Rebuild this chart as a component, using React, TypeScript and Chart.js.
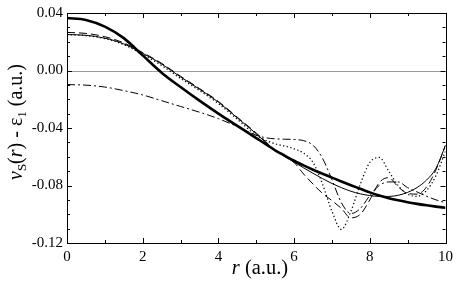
import React, { useEffect, useRef } from "react";
import { Chart, registerables } from "chart.js";

Chart.register(...registerables);

// radial grid (a.u.)
const rValues = [0, 0.5, 1, 1.5, 2, 2.5, 3, 3.5, 4, 4.5, 5, 5.25, 5.5, 5.75, 6, 6.25, 6.5, 6.75, 7, 7.25, 7.5, 7.75, 8, 8.25, 8.5, 8.75, 9, 9.25, 9.5, 9.75, 10];

const thickSolid = [0.0365, 0.0352, 0.0305, 0.0225, 0.0105, -0.0015, -0.0115, -0.021, -0.030, -0.0385, -0.047, -0.0512, -0.0555, -0.0592, -0.0628, -0.066, -0.069, -0.0718, -0.0745, -0.0772, -0.0798, -0.0823, -0.0848, -0.087, -0.0888, -0.0903, -0.0916, -0.0928, -0.0938, -0.0947, -0.0955];

const thinSolid = [0.025, 0.0245, 0.0225, 0.0185, 0.012, 0.0045, -0.0045, -0.013, -0.022, -0.033, -0.044, -0.050, -0.0555, -0.0598, -0.0637, -0.0677, -0.0715, -0.0752, -0.0786, -0.0815, -0.084, -0.0858, -0.087, -0.0876, -0.0876, -0.0868, -0.0848, -0.0814, -0.0762, -0.068, -0.052];

const dashed = [0.0265, 0.0258, 0.0235, 0.0192, 0.0125, 0.005, -0.004, -0.0125, -0.0215, -0.0325, -0.0435, -0.0495, -0.0555, -0.0598, -0.064, -0.072, -0.079, -0.0855, -0.0905, -0.096, -0.1025, -0.100, -0.090, -0.078, -0.0745, -0.081, -0.0855, -0.086, -0.081, -0.069, -0.052];

const dotted = [0.025, 0.0243, 0.0222, 0.018, 0.0112, 0.0035, -0.0055, -0.014, -0.023, -0.034, -0.045, -0.0485, -0.051, -0.0525, -0.0545, -0.0575, -0.064, -0.079, -0.098, -0.1105, -0.098, -0.079, -0.064, -0.0605, -0.070, -0.080, -0.086, -0.0875, -0.0835, -0.073, -0.056];

const dashDot = [-0.0098, -0.0102, -0.0115, -0.014, -0.017, -0.021, -0.025, -0.029, -0.0335, -0.039, -0.045, -0.0468, -0.0475, -0.0478, -0.048, -0.0488, -0.052, -0.061, -0.076, -0.092, -0.0995, -0.096, -0.087, -0.080, -0.0775, -0.0775, -0.0815, -0.0845, -0.0875, -0.090, -0.092];

const xMajorTicks = [0, 2, 4, 6, 8, 10];
const xMinorTicks = [1, 3, 5, 7, 9];
const yMajorTicks = [0.04, 0.0, -0.04, -0.08, -0.12];
const yMinorTicks = [0.03, 0.02, 0.01, -0.01, -0.02, -0.03, -0.05, -0.06, -0.07, -0.09, -0.1, -0.11];

const SERIF = "'Liberation Serif', 'Times New Roman', serif";

function toPoints(ys: number[]) {
  return rValues.map((r, i) => ({ x: r, y: ys[i] }));
}

const framePlugin = {
  id: "frameTicksTitles",
  beforeDatasetsDraw(chart: any) {
    const { ctx, chartArea } = chart;
    const y = chart.scales.y;
    const py = Math.round(y.getPixelForValue(0)) + 0.5;
    ctx.save();
    ctx.strokeStyle = "#9a9a9a";
    ctx.lineWidth = 1;
    ctx.beginPath();
    ctx.moveTo(chartArea.left, py);
    ctx.lineTo(chartArea.right, py);
    ctx.stroke();
    ctx.restore();
  },
  afterDatasetsDraw(chart: any) {
    const { ctx, chartArea } = chart;
    const xs = chart.scales.x;
    const ys = chart.scales.y;
    const L = chartArea.left, R = chartArea.right, T = chartArea.top, B = chartArea.bottom;
    ctx.save();
    ctx.strokeStyle = "#000";
    ctx.lineWidth = 1;
    ctx.strokeRect(Math.round(L) + 0.5, Math.round(T) + 0.5, Math.round(R - L), Math.round(B - T));
    ctx.beginPath();
    const xt = (v: number, len: number) => {
      const p = Math.round(xs.getPixelForValue(v)) + 0.5;
      ctx.moveTo(p, B);
      ctx.lineTo(p, B - len);
      ctx.moveTo(p, T);
      ctx.lineTo(p, T + len);
    };
    const yt = (v: number, len: number) => {
      const p = Math.round(ys.getPixelForValue(v)) + 0.5;
      ctx.moveTo(L, p);
      ctx.lineTo(L + len, p);
      ctx.moveTo(R, p);
      ctx.lineTo(R - len, p);
    };
    xMajorTicks.forEach((v) => xt(v, 5));
    xMinorTicks.forEach((v) => xt(v, 3));
    yMajorTicks.forEach((v) => yt(v, 5));
    yMinorTicks.forEach((v) => yt(v, 3));
    ctx.stroke();
    ctx.restore();
  },
  afterDraw(chart: any) {
    const { ctx } = chart;
    ctx.save();
    ctx.fillStyle = "#000";
    ctx.textBaseline = "alphabetic";
    // x title
    const xSegs = [
      { t: "r", f: `italic 20.5px ${SERIF}`, dy: 0 },
      { t: " (a.u.)", f: `20.5px ${SERIF}`, dy: 0 },
    ];
    let w = 0;
    xSegs.forEach((s) => { ctx.font = s.f; w += ctx.measureText(s.t).width; });
    let x = 260 - w / 2;
    xSegs.forEach((s) => { ctx.font = s.f; ctx.fillText(s.t, x, 274 + s.dy); x += ctx.measureText(s.t).width; });

    // y title (rotated)
    const ySegs = [
      { t: "v", f: `italic 20px ${SERIF}`, dy: 0 },
      { t: "S", f: `13px ${SERIF}`, dy: 4 },
      { t: "(", f: `20px ${SERIF}`, dy: 0 },
      { t: "r", f: `italic 20px ${SERIF}`, dy: 0 },
      { t: ") - \u03b5", f: `20px ${SERIF}`, dy: 0 },
      { t: "1", f: `13px ${SERIF}`, dy: 4 },
      { t: " (a.u.)", f: `20px ${SERIF}`, dy: 0 },
    ];
    let wy = 0;
    ySegs.forEach((s) => { ctx.font = s.f; wy += ctx.measureText(s.t).width; });
    ctx.translate(22, 122);
    ctx.rotate(-Math.PI / 2);
    let lx = -wy / 2;
    ySegs.forEach((s) => { ctx.font = s.f; ctx.fillText(s.t, lx, s.dy); lx += ctx.measureText(s.t).width; });
    ctx.restore();
  },
};

export default function App() {
  const ref = useRef<HTMLCanvasElement | null>(null);
  useEffect(() => {
    document.body.style.margin = "0";
    const canvas = ref.current!;
    const base = { pointRadius: 0, borderColor: "#000", fill: false, cubicInterpolationMode: "monotone" as const };
    const chart = new Chart(canvas, {
      type: "line",
      data: {
        datasets: [
          { ...base, label: "dash-dot", data: toPoints(dashDot), borderWidth: 1, borderDash: [8, 3, 2, 3] },
          { ...base, label: "dotted", data: toPoints(dotted), borderWidth: 1.2, borderDash: [1.3, 2.4] },
          { ...base, label: "dashed", data: toPoints(dashed), borderWidth: 1, borderDash: [8, 4] },
          { ...base, label: "thin", data: toPoints(thinSolid), borderWidth: 1 },
          { ...base, label: "thick", data: toPoints(thickSolid), borderWidth: 2.6 },
        ],
      },
      options: {
        animation: false,
        responsive: false,
        layout: { padding: { top: 7, right: 8, left: 0, bottom: 0 } },
        plugins: { legend: { display: false }, tooltip: { enabled: false } },
        scales: {
          x: {
            type: "linear",
            min: 0,
            max: 10,
            grid: { display: false, drawTicks: false },
            border: { display: false },
            ticks: {
              stepSize: 2,
              padding: 5,
              color: "#000",
              font: { family: SERIF, size: 15 },
              callback: (v: any) => String(v),
              maxRotation: 0,
            },
            afterFit: (s: any) => { s.height = 39; },
          },
          y: {
            type: "linear",
            min: -0.12,
            max: 0.04,
            grid: { display: false, drawTicks: false },
            border: { display: false },
            ticks: {
              stepSize: 0.04,
              padding: 4,
              color: "#000",
              font: { family: SERIF, size: 15 },
              callback: (v: any) => Number(v).toFixed(2),
            },
            afterFit: (s: any) => { s.width = 67; },
          },
        },
      },
      plugins: [framePlugin],
    });
    return () => chart.destroy();
  }, []);
  return <canvas ref={ref} width={458} height={282} style={{ display: "block" }} />;
}
